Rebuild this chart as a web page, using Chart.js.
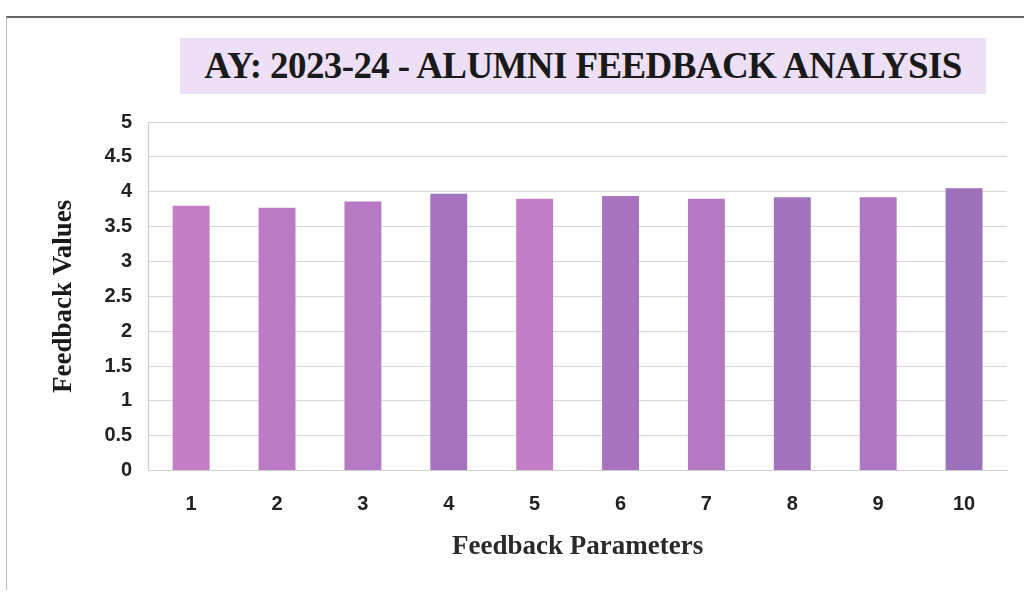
<!DOCTYPE html>
<html>
<head>
<meta charset="utf-8">
<script src="https://cdn.jsdelivr.net/npm/chart.js@4.4.1/dist/chart.umd.min.js"></script>
<style>
  html, body { margin: 0; padding: 0; background: #fff; }
  #wrap { position: relative; width: 1029px; height: 594px; }
  #frame {
    position: absolute; left: 6px; top: 16px; width: 1018px; height: 574px;
    border-top: 2px solid #666; border-left: 1px solid #bbb; box-sizing: border-box;
  }
  #title {
    position: absolute; left: 180px; top: 38px; width: 806px; height: 56px;
    background: #eddff5;
    font-family: "Liberation Serif", serif; font-weight: bold; font-size: 37px;
    color: #1a1a1a; text-align: center; line-height: 56px; letter-spacing: -0.6px;
  }
  canvas { position: absolute; left: 0; top: 0; }
</style>
</head>
<body>
<div id="wrap">
  <div id="frame"></div>
  <canvas id="chart" width="1029" height="594"></canvas>
  <div id="title">AY: 2023-24 - ALUMNI FEEDBACK ANALYSIS</div>
</div>
<script>
// data
const parameters = ["1", "2", "3", "4", "5", "6", "7", "8", "9", "10"];
const feedbackValues = [3.8, 3.77, 3.86, 3.97, 3.9, 3.94, 3.9, 3.92, 3.92, 4.05];
const barColors = ["#c47ec6", "#bb7bc4", "#b57ac2", "#a673be", "#c27ec6",
                   "#a974bf", "#b37ac3", "#a374bd", "#ad77c1", "#9c70ba"];

const ctx = document.getElementById("chart").getContext("2d");

new Chart(ctx, {
  type: "bar",
  data: {
    labels: parameters,
    datasets: [{
      label: "Feedback Values",
      data: feedbackValues,
      backgroundColor: barColors,
      categoryPercentage: 1,
      barPercentage: 0.43
    }]
  },
  options: {
    responsive: false,
    animation: false,
    layout: {
      padding: { left: 44, right: 22, top: 122, bottom: 27 }
    },
    plugins: {
      legend: { display: false },
      tooltip: { enabled: false }
    },
    scales: {
      x: {
        grid: { display: false },
        border: { color: "#cfcfcf" },
        ticks: {
          color: "#222",
          font: { family: "Liberation Sans", weight: "bold", size: 20 },
          padding: 14
        },
        title: {
          display: true,
          text: "Feedback Parameters",
          color: "#2a2a2a",
          font: { family: "Liberation Serif", weight: "bold", size: 27 },
          padding: { top: 0 }
        }
      },
      y: {
        min: 0,
        max: 5,
        ticks: {
          stepSize: 0.5,
          color: "#222",
          font: { family: "Liberation Sans", weight: "bold", size: 20 },
          padding: 16,
          callback: (v) => String(v)
        },
        grid: { color: "#d6d6d6", drawTicks: false },
        border: { color: "#d8c0e0" },
        title: {
          display: true,
          text: "Feedback Values",
          color: "#1a1a1a",
          font: { family: "Liberation Serif", weight: "bold", size: 27 },
          padding: { bottom: 8 }
        }
      }
    }
  }
});
</script>
</body>
</html>
